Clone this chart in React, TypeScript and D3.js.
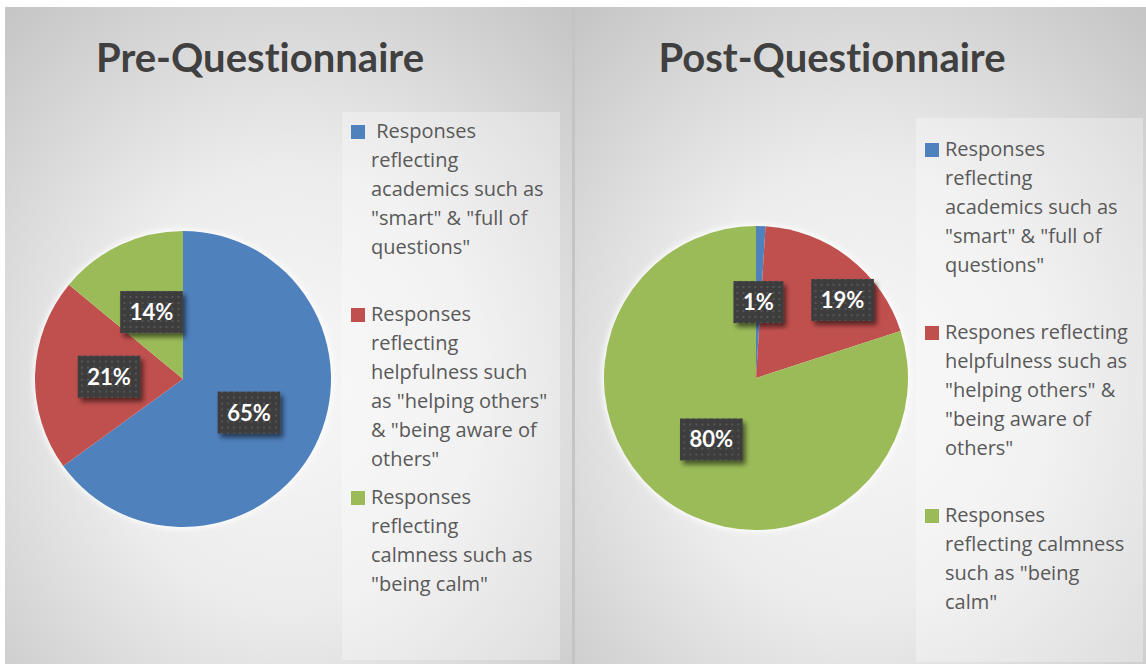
import React, { useEffect, useRef } from "react";
import * as d3 from "d3";

const categoryKeys = ["academics", "helpfulness", "calmness"];
const colors = ["#4F81BD", "#C0504D", "#9BBB59"];
const preValues = [65, 21, 14];
const postValues = [1, 19, 80];
const preTitle = "Pre-Questionnaire";
const postTitle = "Post-Questionnaire";
const preLegend = [
  [" Responses", "reflecting", "academics such as", "\"smart\" & \"full of", "questions\""],
  ["Responses", "reflecting", "helpfulness such", "as \"helping others\"", "& \"being aware of", "others\""],
  ["Responses", "reflecting", "calmness such as", "\"being calm\""],
];
const postLegend = [
  ["Responses", "reflecting", "academics such as", "\"smart\" & \"full of", "questions\""],
  ["Respones reflecting", "helpfulness such as", "\"helping others\" &", "\"being aware of", "others\""],
  ["Responses", "reflecting calmness", "such as \"being", "calm\""],
];

const W = 1146;
const H = 664;
const FONT = "Lato, 'Open Sans', sans-serif";
const LFONT = "'Open Sans', Lato, sans-serif";

type Panel = {
  x: number; w: number; title: string; titleX: number; values: number[]; legend: string[][];
  cx: number; cy: number; r: number; legendBox: [number, number, number, number];
  legendX: number; firstLine: number; labelNudge: [number, number][];
};

const panels: Panel[] = [
  {
    x: 5, w: 567, title: preTitle, titleX: 260, values: preValues, legend: preLegend,
    cx: 183, cy: 379, r: 148, legendBox: [342, 112, 218, 548], legendX: 351, firstLine: 131,
    labelNudge: [[0, 0], [0, 0], [0, 0]],
  },
  {
    x: 575, w: 571, title: postTitle, titleX: 832, values: postValues, legend: postLegend,
    cx: 756, cy: 378, r: 152, legendBox: [916, 118, 227, 544], legendX: 925, firstLine: 149,
    labelNudge: [[0, 0], [40, -18], [0, 0]],
  },
];

export default function App() {
  const ref = useRef<SVGSVGElement | null>(null);
  useEffect(() => {
    const svg = d3.select(ref.current);
    svg.selectAll("*").remove();
    const defs = svg.append("defs");

    const rg = defs.append("radialGradient").attr("id", "bg").attr("cx", "50%").attr("cy", "58%").attr("r", "75%");
    rg.append("stop").attr("offset", "0%").attr("stop-color", "#f7f7f7");
    rg.append("stop").attr("offset", "45%").attr("stop-color", "#ececec");
    rg.append("stop").attr("offset", "100%").attr("stop-color", "#c6c6c6");

    const pat = defs.append("pattern").attr("id", "dots").attr("width", 6).attr("height", 6).attr("patternUnits", "userSpaceOnUse");
    pat.append("rect").attr("width", 6).attr("height", 6).attr("fill", "#3d3d3d");
    pat.append("rect").attr("x", 2).attr("y", 2).attr("width", 2).attr("height", 2).attr("fill", "#555555");

    const sh = defs.append("filter").attr("id", "shadow").attr("x", "-30%").attr("y", "-30%").attr("width", "160%").attr("height", "160%");
    sh.append("feGaussianBlur").attr("in", "SourceAlpha").attr("stdDeviation", 2.5);
    sh.append("feOffset").attr("dx", 3).attr("dy", 4).attr("result", "b");
    sh.append("feComponentTransfer").append("feFuncA").attr("type", "linear").attr("slope", 0.55);
    const m = sh.append("feMerge");
    m.append("feMergeNode");
    m.append("feMergeNode").attr("in", "SourceGraphic");

    const glow = defs.append("filter").attr("id", "glow").attr("x", "-20%").attr("y", "-20%").attr("width", "140%").attr("height", "140%");
    glow.append("feGaussianBlur").attr("stdDeviation", 3);

    svg.append("rect").attr("width", W).attr("height", H).attr("fill", "#ffffff");
    svg.append("rect").attr("x", 572).attr("y", 7).attr("width", 3).attr("height", H - 7).attr("fill", "#c4c4c4");

    panels.forEach((p) => {
      const g = svg.append("g");
      g.append("rect").attr("x", p.x).attr("y", 7).attr("width", p.w).attr("height", H - 7).attr("fill", "url(#bg)");

      g.append("text").attr("x", p.titleX).attr("y", 72).attr("text-anchor", "middle")
        .attr("font-family", FONT).attr("font-weight", 700).attr("font-size", 40).attr("fill", "#404040")
        .attr("letter-spacing", 0.01)
        .style("font-variant-ligatures", "none").style("font-feature-settings", "'liga' 0, 'clig' 0").text(p.title);

      const [lx, ly, lw, lh] = p.legendBox;
      g.append("rect").attr("x", lx).attr("y", ly).attr("width", lw).attr("height", lh).attr("fill", "#ffffff").attr("opacity", 0.3);

      p.legend.forEach((lines, i) => {
        const y0 = p.firstLine + i * 183;
        g.append("rect").attr("x", p.legendX).attr("y", y0 - 6).attr("width", 14).attr("height", 14).attr("fill", colors[i]);
        const t = g.append("text").attr("font-family", LFONT).attr("font-size", 20).attr("fill", "#595959")
          .style("white-space", "pre");
        lines.forEach((ln, j) => {
          t.append("tspan").attr("x", p.legendX + 20).attr("y", y0 + j * 29 + 7).text(ln);
        });
      });

      const pie = d3.pie<number>().sort(null).value((d) => d);
      const arcs = pie(p.values);
      const arc = d3.arc<d3.PieArcDatum<number>>().innerRadius(0).outerRadius(p.r);
      const pg = g.append("g").attr("transform", `translate(${p.cx},${p.cy})`);
      pg.append("circle").attr("r", p.r + 1.5).attr("fill", "#ffffff").attr("filter", "url(#glow)");
      pg.selectAll("path.slice").data(arcs).enter().append("path").attr("class", "slice")
        .attr("d", arc).attr("fill", (_d, i) => colors[i]);

      arcs.forEach((a, i) => {
        const [x, y] = arc.centroid(a);
        const nx = x + p.labelNudge[i][0];
        const ny = y + p.labelNudge[i][1];
        const lg = pg.append("g").attr("transform", `translate(${nx},${ny})`);
        const box = lg.append("rect").attr("fill", "url(#dots)").attr("filter", "url(#shadow)");
        const txt = lg.append("text").attr("text-anchor", "middle").attr("y", 8)
          .attr("font-family", FONT).attr("font-weight", 700).attr("font-size", 22).attr("fill", "#ffffff")
          .text(`${a.data}%`);
        const tw = (txt.node() as SVGTextElement).getComputedTextLength();
        const bw = tw + 19;
        box.attr("x", -bw / 2).attr("y", -21).attr("width", bw).attr("height", 42);
      });
    });
  }, []);
  return <svg ref={ref} width={W} height={H} style={{ display: "block", position: "absolute", left: 0, top: 0 }} />;
}
